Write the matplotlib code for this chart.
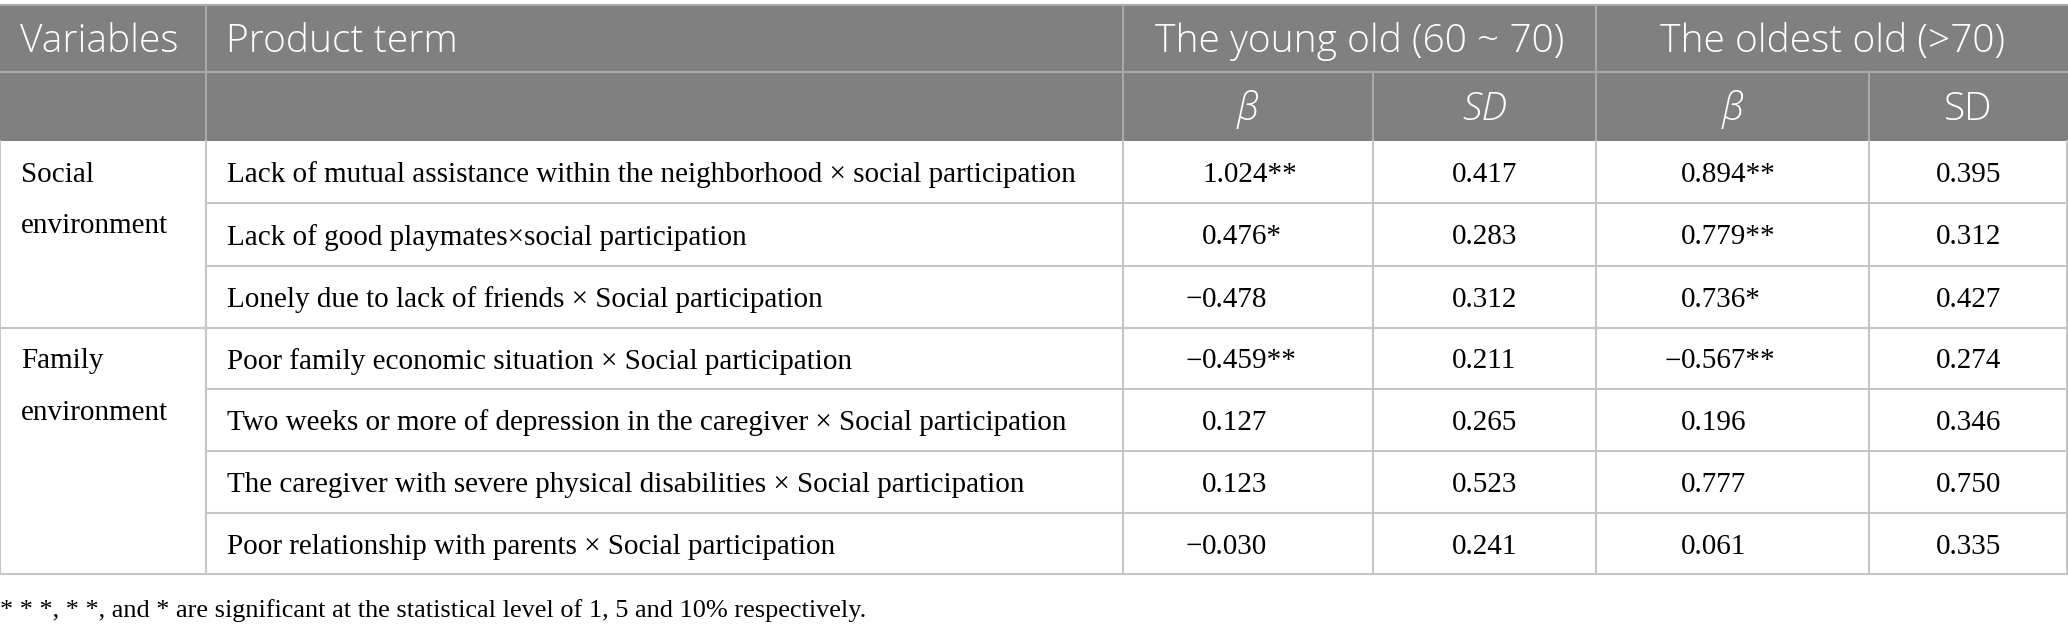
import matplotlib
matplotlib.use("Agg")
import matplotlib.pyplot as plt

# table content
groups = ["Social\nenvironment", "Family\nenvironment"]
group_rows = [3, 4]
terms = [
    "Lack of mutual assistance within the neighborhood \u00d7 social participation",
    "Lack of good playmates\u00d7social participation",
    "Lonely due to lack of friends \u00d7 Social participation",
    "Poor family economic situation \u00d7 Social participation",
    "Two weeks or more of depression in the caregiver \u00d7 Social participation",
    "The caregiver with severe physical disabilities \u00d7 Social participation",
    "Poor relationship with parents \u00d7 Social participation",
]
young_beta = ["1.024**", "0.476*", "\u22120.478", "\u22120.459**", "0.127", "0.123", "\u22120.030"]
young_sd = ["0.417", "0.283", "0.312", "0.211", "0.265", "0.523", "0.241"]
old_beta = ["0.894**", "0.779**", "0.736*", "\u22120.567**", "0.196", "0.777", "0.061"]
old_sd = ["0.395", "0.312", "0.427", "0.274", "0.346", "0.750", "0.335"]
footnote = "* * *, * *, and * are significant at the statistical level of 1, 5 and 10% respectively."

W, H = 2068, 629
fig = plt.figure(figsize=(W / 100, H / 100), dpi=100)
ax = fig.add_axes([0, 0, 1, 1])
ax.set_xlim(0, W)
ax.set_ylim(H, 0)
ax.axis("off")

head_bg = "#7f807f"
head_line = "#a9a9a9"
body_line = "#c6c6c6"
sans = ["Open Sans", "DejaVu Sans"]
serif = ["Liberation Serif", "DejaVu Serif"]
hsize = 28
bsize = 21
hw = "light"

cols = [0, 206, 1123, 1373, 1596, 1869, W - 1]
top, h1, h2 = 5, 72, 141
rows = [141, 203, 266, 328, 389, 451, 513, 574]

# header block
ax.fill_between([0, W], top, h2, color=head_bg, lw=0)
ax.plot([0, W], [top, top], color=head_line, lw=1.5)
ax.plot([0, W], [h1, h1], color=head_line, lw=1.5)
for x in [206, 1123, 1596]:
    ax.plot([x, x], [top, h2], color=head_line, lw=1.5)
for x in [1373, 1869]:
    ax.plot([x, x], [h1, h2], color=head_line, lw=1.5)

hy1 = (top + h1) / 2 + 3
hy2 = (h1 + h2) / 2 + 3
ax.text(20, hy1, "Variables", color="white", fontsize=hsize, family=sans, weight=hw,
        va="center", ha="left")
ax.text(226, hy1, "Product term", color="white", fontsize=hsize, family=sans, weight=hw,
        va="center", ha="left")
ax.text((1123 + 1596) / 2, hy1, "The young old (60 ~ 70)", color="white", fontsize=hsize,
        family=sans, weight=hw, va="center", ha="center")
ax.text((1596 + W) / 2, hy1, "The oldest old (>70)", color="white", fontsize=hsize,
        family=sans, weight=hw, va="center", ha="center")
sub = [("\u03b2", "italic"), ("SD", "italic"), ("\u03b2", "italic"), ("SD", "normal")]
for i, (lab, st) in enumerate(sub):
    xc = (cols[i + 2] + cols[i + 3]) / 2
    ax.text(xc, hy2, lab, color="white", fontsize=hsize, family=sans, style=st, weight=hw,
            va="center", ha="center")

# body grid
for i, y in enumerate(rows[1:], start=1):
    x0 = 0 if i in (3, 7) else 206
    ax.plot([x0, W], [y, y], color=body_line, lw=1.5)
for x in cols:
    ax.plot([x, x], [h2, rows[-1]], color=body_line, lw=1.5)

# variable groups
start = 0
for g, n in zip(groups, group_rows):
    yc = (rows[start] + rows[start + 1]) / 2 + 3
    for k, line in enumerate(g.split("\n")):
        ax.text(21, yc + k * 51, line, fontsize=bsize, family=serif, va="center", ha="left")
    start += n

# rows
def put_beta(anchor, y, s):
    if s.startswith("\u2212"):
        ax.text(anchor, y, "\u2212", fontsize=bsize, family=serif, va="center", ha="right")
        s = s[1:]
    ax.text(anchor, y, s, fontsize=bsize, family=serif, va="center", ha="left")

for r in range(len(terms)):
    yc = (rows[r] + rows[r + 1]) / 2 + 3
    ax.text(227, yc, terms[r], fontsize=bsize, family=serif, va="center", ha="left")
    put_beta(1202, yc, young_beta[r])
    ax.text((1373 + 1596) / 2, yc, young_sd[r], fontsize=bsize, family=serif, va="center", ha="center")
    put_beta(1681, yc, old_beta[r])
    ax.text((1869 + W) / 2, yc, old_sd[r], fontsize=bsize, family=serif, va="center", ha="center")

ax.text(0, 611, footnote, fontsize=18.9, family=serif, va="center", ha="left")

fig.savefig("out.png", dpi=100, facecolor="white")
